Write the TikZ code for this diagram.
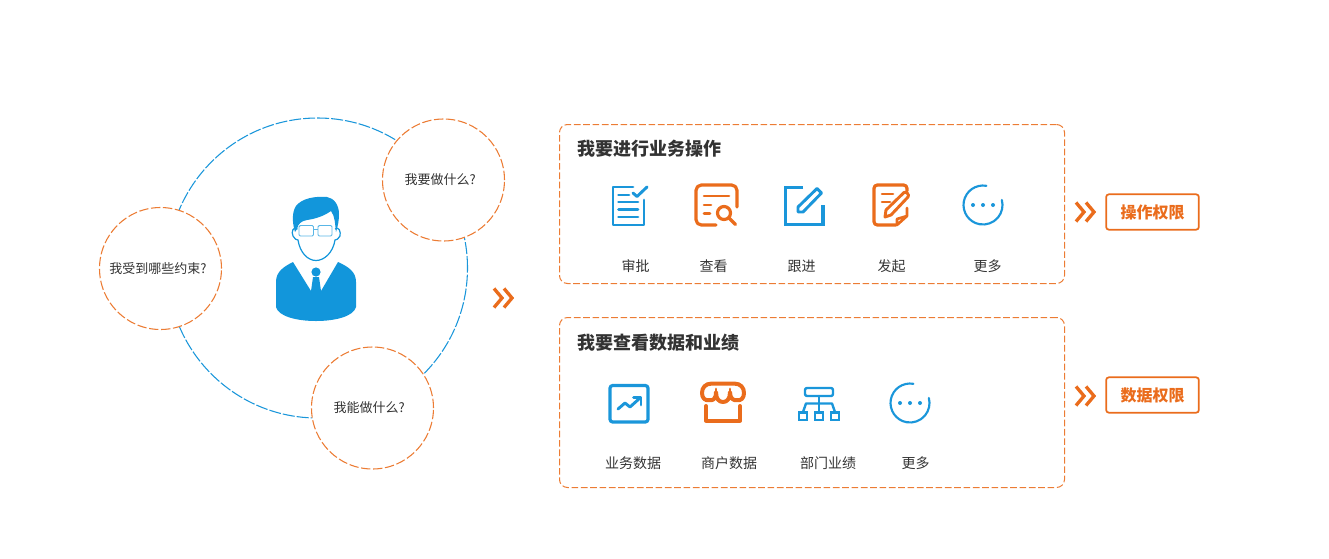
\documentclass[tikz,border=0pt]{standalone}
\usepackage{fontspec}
\setmainfont{Noto Sans CJK SC}
\definecolor{bl}{HTML}{1A96DA}
\definecolor{blb}{HTML}{1296DB}
\definecolor{og}{HTML}{EA6C1C}
\definecolor{ogd}{HTML}{EC7C34}
\definecolor{tx}{HTML}{333333}
\tikzset{
  ring/.style={circle,draw=bl,line width=.8pt,dash pattern=on 9pt off 1.5pt,minimum size=225pt,inner sep=0pt},
  bub/.style={circle,draw=ogd,fill=white,line width=.8pt,dash pattern=on 7pt off 2pt,minimum size=91.5pt,inner sep=0pt,text=tx,font=\fontsize{9.75pt}{12pt}\selectfont},
  panel/.style={draw=ogd,rounded corners=6pt,line width=.75pt,dash pattern=on 5pt off 2pt,inner sep=0pt},
  ttl/.style={anchor=west,inner sep=0pt,text=tx,font=\fontsize{13.5pt}{16pt}\selectfont\bfseries},
  captxt/.style={inner sep=0pt,text=tx,text height=9.2pt,text depth=1.3pt,font=\fontsize{10.5pt}{12pt}\selectfont},
  perm/.style={draw=og,rounded corners=2pt,line width=1.3pt,text=og,inner sep=0pt,minimum width=69.5pt,minimum height=26.5pt,font=\fontsize{12pt}{14pt}\selectfont\bfseries},
  chevline/.style={draw=og,line width=2.5pt,miter limit=10},
  ib/.style={draw=bl,line width=2.2pt,line cap=round,line join=round,fill=none},
  io/.style={draw=og,line width=2.4pt,line cap=round,line join=round,fill=none},
}
\newcommand{\ChevMark}[2]{%
  \begin{scope}[shift={(#1,#2)}]
    \draw[chevline] (-9,-9.5) -- (-1,0) -- (-9,9.5);
    \draw[chevline] (1,-9.5) -- (9,0) -- (1,9.5);
  \end{scope}}
\begin{document}
\begin{tikzpicture}[x=0.75pt,y=-0.75pt]
\useasboundingbox (0,0) rectangle (1329,558);
% ring and bubbles
\node[ring] (bigring) at (317.5,268) {};
\node[bub] (b1) at (443.5,180) {\raisebox{-.6pt}{我要做什么?}\kern5pt};
\node[bub] (b2) at (160.5,268.5) {\raisebox{-.4pt}{我受到哪些约束?}\kern4pt};
\node[bub] (b3) at (372.5,408) {\raisebox{-.4pt}{我能做什么?}\kern5pt};
% person
\fill[blb] (293,262) .. controls (283,267) and (276,272) .. (276,282) -- (276,307)
  .. controls (278,316) and (296,321) .. (316,321) .. controls (336,321) and (354,316) .. (356,307)
  -- (356,282) .. controls (356,272) and (349,267) .. (338,262)
  -- (321,291) -- (319,277) -- (313,277) -- (311,291) -- cycle;
\fill[blb] (316,272) circle (4.6);
\draw[blb,line width=.9pt,fill=white] (297.5,229) .. controls (293,226) and (291,232) .. (293,236) .. controls (294,239) and (297,240) .. (298,240)
  .. controls (300,253) and (308,260.5) .. (316,260.5) .. controls (324,260.5) and (333,253) .. (335,240)
  .. controls (336,240) and (339,239) .. (340,236) .. controls (341,232) and (339,226) .. (335,229);
\fill[blb] (295,232) .. controls (292,222) and (292,212) .. (296,206) .. controls (302,198) and (316,196) .. (327,197)
  .. controls (334,198) and (339,205) .. (339,214) .. controls (339,220) and (338,226) .. (336,232)
  .. controls (335,224) and (335,216) .. (331,211) .. controls (324,216) and (315,219) .. (307,220)
  .. controls (301,221) and (298,224) .. (297,229) -- cycle;
\draw[blb!70,line width=.7pt,rounded corners=1pt] (299,225.5) rectangle (313.5,236);
\draw[blb!70,line width=.7pt,rounded corners=1pt] (318,225.5) rectangle (332,236);
\draw[blb!70,line width=.7pt] (313.5,229) -- (318,229);
% main chevron
\ChevMark{503}{298}
% panels
\node[panel,minimum width=378.75pt,minimum height=119.25pt] (p1) at (812,204) {};
\node[panel,minimum width=378.75pt,minimum height=127.5pt] (p2) at (812,402.5) {};
\node[ttl] (t1) at (577,148.5) {我要进行业务操作};
\node[ttl] (t2) at (577,342.5) {我要查看数据和业绩};
% captions row 1
\node[captxt] (c11) at (635.5,266) {审批};
\node[captxt] (c12) at (713.5,266) {查看};
\node[captxt] (c13) at (801.5,266) {跟进};
\node[captxt] (c14) at (891.5,266) {发起};
\node[captxt] (c15) at (987.5,266) {更多};
% captions row 2
\node[captxt] (c21) at (633,463) {业务数据};
\node[captxt] (c22) at (729,463) {商户数据};
\node[captxt] (c23) at (828,463) {部门业绩};
\node[captxt] (c24) at (915.5,463) {更多};
% icon: approve
\draw[ib] (633,187) -- (613,187) -- (613,225) -- (644,225) -- (644,200);
\draw[ib] (633,193) -- (637,196.5) -- (647,187);
\draw[ib] (618.5,195) -- (629,195) (618.5,202) -- (638,202) (618.5,209.5) -- (638,209.5) (618.5,217) -- (638,217);
% icon: view
\draw[io,rounded corners=4pt] (737,207) -- (737,185) -- (696,185) -- (696,225) -- (716,225);
\draw[io,line width=2pt] (704,196) -- (729,196) (704,205) -- (711,205) (704,213.5) -- (710,213.5);
\draw[io] (724,213) circle (6.5);
\draw[io] (729,218) -- (735.5,224.5);
% icon: follow
\draw[ib,line width=2.5pt,line cap=butt,line join=miter] (803,187.5) -- (785.5,187.5) -- (785.5,224.5) -- (823,224.5) -- (823,205);
\draw[ib,line width=2.2pt] (798,212) -- (798,207) -- (817,188.5) -- (821.5,193) -- (803,212) -- cycle;
% icon: start
\draw[io,rounded corners=2.5pt] (896,225) -- (874,225) -- (874,185) -- (907,185) -- (907,191);
\draw[io,line width=2pt] (882,194) -- (893,194) (882,202) -- (890,202);
\draw[io,line width=2.2pt] (885,217) -- (886,210) -- (904,192.5) .. controls (906,191) and (910,195) .. (908,197) -- (891,215) -- cycle;
\draw[io,line width=2pt] (907,208) -- (907,216) -- (897,225) -- (897,219) -- (907,216);
% icon: more 1
\draw[bl,line width=1.6pt,line cap=round] (986.4,185.8) arc (-80:-375:19.5);
\foreach \dx in {-10,0,10} \fill[bl] (983+\dx,205) circle (2);
% chart icon
\draw[ib,line width=2.4pt,rounded corners=2pt] (610,385.5) rectangle (648,422);
\draw[ib] (618,409) -- (625,403) -- (630,407) -- (640,398);
\draw[ib] (633.5,397.5) -- (641,397.5) -- (641,405);
% shop icon
\draw[io,line width=3pt] (712,383.5) -- (734,383.5) .. controls (741,383.5) and (744,388) .. (744,393) .. controls (744,398) and (741,401) .. (737,400)
  .. controls (733,401) and (730,398) .. (730,392) .. controls (730,399) and (727,402) .. (723,402) .. controls (719,402) and (716,399) .. (716,392)
  .. controls (716,399) and (713,401) .. (709,400) .. controls (705,401) and (702,398) .. (702,393) .. controls (702,388) and (705,383.5) .. (712,383.5);
\draw[io,line width=3pt] (706,406) -- (706,420.5) -- (740,420.5) -- (740,406);
\draw[io,line width=2.2pt] (716,392) -- (716,389) (730,392) -- (730,389);
% org icon
\draw[ib,line width=1.8pt,rounded corners=1.5pt] (805,388) rectangle (833,396);
\draw[ib,line width=1.8pt] (819,396) -- (819,412);
\draw[ib,line width=1.8pt] (803,412) -- (806,403.5) -- (832,403.5) -- (835,412);
\draw[ib,line width=1.8pt,line cap=butt,line join=miter] (799,412.5) rectangle (807,420);
\draw[ib,line width=1.8pt,line cap=butt,line join=miter] (815,412.5) rectangle (823,420);
\draw[ib,line width=1.8pt,line cap=butt,line join=miter] (831,412.5) rectangle (839,420);
% icon: more 2
\draw[bl,line width=1.6pt,line cap=round] (913.4,383.8) arc (-80:-375:19.5);
\foreach \dx in {-10,0,10} \fill[bl] (910+\dx,403) circle (2);
% permission
\ChevMark{1085}{212}
\ChevMark{1085}{396}
\node[perm] (k1) at (1152.5,212) {操作权限};
\node[perm] (k2) at (1152.5,395) {数据权限};
\end{tikzpicture}
\end{document}
